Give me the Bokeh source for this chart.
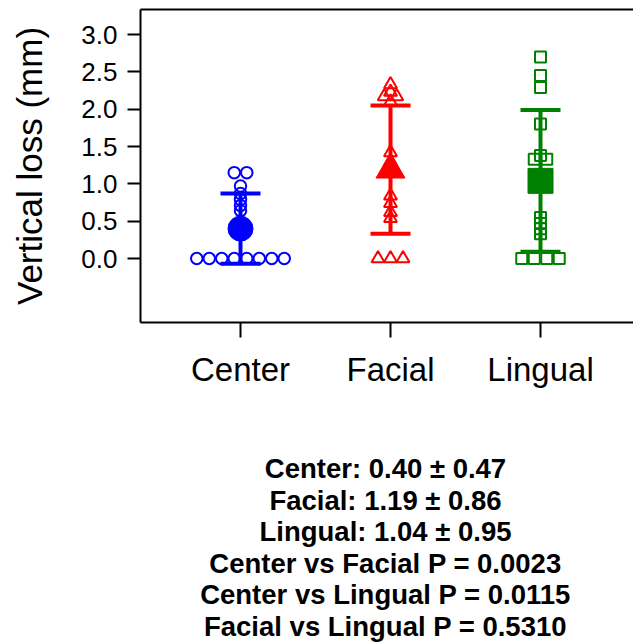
from bokeh.plotting import figure
from bokeh.models import Range1d, FixedTicker, LinearAxis, ColumnDataSource
from bokeh.layouts import column
from bokeh.embed import file_html
from bokeh.resources import INLINE
from bokeh.core.properties import value

# ---- data -------------------------------------------------------------
groups = ["Center", "Facial", "Lingual"]
colors = ["#0000FF", "#FF0000", "#008000"]
markers = ["circle", "triangle", "square"]

center_vals = [0, 0, 0, 0, 0, 0, 0, 0, 1.15, 1.15, 0.97, 0.87, 0.79, 0.71, 0.64]
facial_vals = [0, 0, 0, 2.33, 2.23, 2.17, 2.17, 2.10, 1.42, 1.30, 1.20, 0.84, 0.74, 0.62, 0.54]
lingual_vals = [0, 0, 0, 0, 2.70, 2.45, 2.29, 1.80, 1.38, 1.33, 1.33, 0.55, 0.47, 0.40, 0.33]

means = [0.40, 1.19, 1.04]
sds = [0.47, 0.86, 0.95]

y_ticks = [0.0, 0.5, 1.0, 1.5, 2.0, 2.5, 3.0]
y_tick_labels = ["0.0", "0.5", "1.0", "1.5", "2.0", "2.5", "3.0"]

stat_lines = [
    "Center: 0.40 \u00b1 0.47",
    "Facial: 1.19 \u00b1 0.86",
    "Lingual: 1.04 \u00b1 0.95",
    "Center vs Facial P = 0.0023",
    "Center vs Lingual P = 0.0115",
    "Facial vs Lingual P = 0.5310",
]

FONT = "Liberation Sans"

# ---- main scatter panel -------------------------------------------------
PX_PER_X = 150.0
LEFT = 140
frame_w = 633 - LEFT
x0 = 1 - 100 / PX_PER_X

p = figure(
    width=633, height=400,
    x_range=Range1d(x0, x0 + frame_w / PX_PER_X),
    y_range=Range1d(-0.857, 3.335),
    output_backend="svg", toolbar_location=None,
    min_border_left=LEFT, min_border_right=0,
    min_border_top=9, min_border_bottom=78,
    x_axis_type=None, y_axis_type=None,
)
p.outline_line_color = None
p.grid.visible = False
p.background_fill_color = "white"
p.border_fill_color = "white"

yax = LinearAxis(ticker=FixedTicker(ticks=y_ticks))
yax.major_label_overrides = {t: l for t, l in zip(y_ticks, y_tick_labels)}
yax.axis_label = "Vertical loss (mm)"
yax.axis_label_text_font = FONT
yax.axis_label_text_font_size = "35px"
yax.axis_label_text_font_style = "normal"
yax.axis_label_text_color = "black"
yax.axis_label_standoff = 29
yax.major_label_text_font = FONT
yax.major_label_text_font_size = "26px"
yax.major_label_text_color = "black"
yax.major_label_standoff = 10
yax.major_tick_out = 13
yax.major_tick_in = 0
yax.minor_tick_line_color = None
yax.axis_line_width = 2
yax.major_tick_line_width = 2
p.add_layout(yax, "left")

xpos = [i + 1 for i in range(len(groups))]
xax = LinearAxis(ticker=FixedTicker(ticks=xpos))
xax.major_label_overrides = {x: g for x, g in zip(xpos, groups)}
xax.major_label_text_font = FONT
xax.major_label_text_font_size = "33px"
xax.major_label_text_color = "black"
xax.major_label_standoff = 13
xax.major_tick_out = 15
xax.major_tick_in = 0
xax.minor_tick_line_color = None
xax.axis_line_width = 2
xax.major_tick_line_width = 2
p.add_layout(xax, "below")

# top border of the plot box
tax = LinearAxis(ticker=FixedTicker(ticks=[]))
tax.major_label_text_font_size = "0px"
tax.major_label_standoff = 0
tax.major_tick_out = 0
tax.major_tick_in = 0
tax.minor_tick_line_color = None
tax.axis_line_width = 2
p.add_layout(tax, "above")

# points with equal values are laid out side by side, centred on the group
STEP = 12.5 / PX_PER_X


def swarm(vals, centre):
    xs = []
    counts = {}
    for v in vals:
        counts[v] = counts.get(v, 0) + 1
    seen = {}
    for v in vals:
        k = seen.get(v, 0)
        seen[v] = k + 1
        xs.append(centre + (k - (counts[v] - 1) / 2) * STEP)
    return xs


all_vals = [center_vals, facial_vals, lingual_vals]
hollow_size = [11.5, 13, 11]
mean_size = [25, 29, 25]

for i, vals in enumerate(all_vals):
    src = ColumnDataSource(dict(x=swarm(vals, xpos[i]), y=vals))
    p.scatter("x", "y", source=src, marker=markers[i], size=hollow_size[i],
              fill_color=None, line_color=colors[i], line_width=2)

# mean +/- SD bars
CAP = 20 / PX_PER_X
for i in range(len(groups)):
    lo, hi = means[i] - sds[i], means[i] + sds[i]
    p.segment(x0=[xpos[i]], y0=[lo], x1=[xpos[i]], y1=[hi],
              line_color=colors[i], line_width=4)
    p.segment(x0=[xpos[i] - CAP, xpos[i] - CAP], y0=[lo, hi],
              x1=[xpos[i] + CAP, xpos[i] + CAP], y1=[lo, hi],
              line_color=colors[i], line_width=4)
    p.scatter(x=[xpos[i]], y=[means[i]], marker=markers[i], size=mean_size[i],
              fill_color=colors[i], line_color=colors[i], line_width=1)

# ---- summary statistics below ------------------------------------------
# the column layout lines this panel's frame up with the one above,
# so its x range covers the same pixel span (LEFT .. 633)
q = figure(
    width=633, height=243,
    x_range=Range1d(LEFT, 633), y_range=Range1d(243, 0),
    output_backend="svg", toolbar_location=None,
    min_border_left=LEFT, min_border_right=0, min_border_top=0, min_border_bottom=0,
    x_axis_type=None, y_axis_type=None,
)
q.outline_line_color = None
q.grid.visible = False
q.border_fill_color = "white"
q.background_fill_color = "white"

ys = [68 + 31.6 * k for k in range(len(stat_lines))]
q.text(x=[385] * len(stat_lines), y=ys, text=stat_lines,
       text_font=value(FONT), text_font_size="27.5px", text_font_style="bold",
       text_align="center", text_baseline="middle", text_color="black")

layout = column(p, q, spacing=0)
open("out.html", "w").write(file_html(layout, INLINE))
